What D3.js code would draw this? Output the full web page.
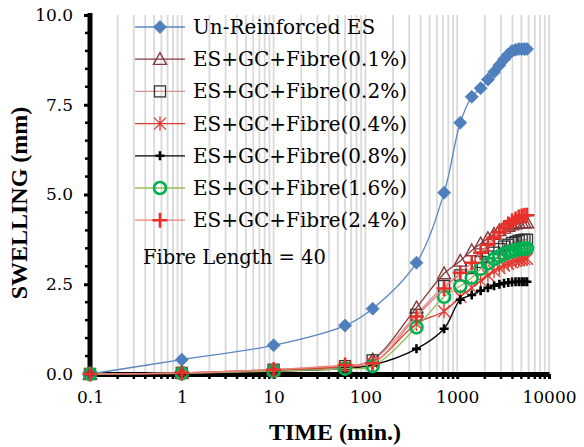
<!DOCTYPE html>
<html>
<head>
<meta charset="utf-8">
<script src="https://cdn.jsdelivr.net/npm/d3@7"></script>
<style>
  html, body { margin: 0; padding: 0; background: #fff; }
  svg { display: block; }
</style>
</head>
<body>
<svg id="chart" width="584" height="447"></svg>
<script>
// Elapsed time (min.) at which swelling was recorded
const times = [0.1, 1, 10, 60, 120, 360, 720, 1080, 1440, 1800, 2160, 2520, 2880,
               3240, 3600, 3960, 4320, 4680, 5040, 5400, 5760];

// Swelling (mm) for each mix
const unReinforced = [0, 0.4, 0.8, 1.35, 1.82, 3.1, 5.05, 7.0, 7.72, 7.96, 8.2, 8.41, 8.6,
                      8.77, 8.9, 9.0, 9.03, 9.05, 9.05, 9.05, 9.05];
const fibre01 = [0, 0.03, 0.12, 0.22, 0.4, 1.85, 2.8, 3.15, 3.44, 3.63, 3.78, 3.9, 4.0,
                 4.07, 4.12, 4.16, 4.19, 4.21, 4.22, 4.22, 4.22];
const fibre02 = [0, 0.03, 0.12, 0.22, 0.38, 1.65, 2.45, 2.75, 2.95, 3.12, 3.27, 3.38, 3.48,
                 3.55, 3.6, 3.65, 3.68, 3.71, 3.73, 3.74, 3.74];
const fibre04 = [0, 0.02, 0.1, 0.2, 0.3, 1.4, 1.75, 2.15, 2.4, 2.6, 2.75, 2.87, 2.95,
                 3.02, 3.07, 3.11, 3.15, 3.17, 3.19, 3.2, 3.21];
const fibre08 = [0, 0.02, 0.08, 0.15, 0.25, 0.7, 1.26, 2.07, 2.2, 2.32, 2.4, 2.46, 2.5,
                 2.53, 2.55, 2.56, 2.57, 2.57, 2.57, 2.57, 2.57];
const fibre16 = [0, 0.02, 0.08, 0.15, 0.22, 1.3, 2.15, 2.45, 2.68, 2.93, 3.08, 3.2, 3.28,
                 3.34, 3.39, 3.42, 3.45, 3.47, 3.49, 3.5, 3.5];
const fibre24 = [0, 0.03, 0.12, 0.25, 0.3, 1.6, 2.38, 2.82, 3.1, 3.38, 3.6, 3.8, 3.95,
                 4.08, 4.18, 4.26, 4.32, 4.37, 4.4, 4.42, 4.42];

const seriesNames = ["Un-Reinforced ES", "ES+GC+Fibre(0.1%)", "ES+GC+Fibre(0.2%)",
                     "ES+GC+Fibre(0.4%)", "ES+GC+Fibre(0.8%)", "ES+GC+Fibre(1.6%)",
                     "ES+GC+Fibre(2.4%)"];
const yTickValues = [0, 2.5, 5, 7.5, 10];
const xTickValues = [0.1, 1, 10, 100, 1000, 10000];
const xTickLabels = ["0.1", "1", "10", "100", "1000", "10000"];
const annotation = "Fibre Length = 40";
const xTitle = "TIME (min.)";
const yTitle = "SWELLING (mm)";

const styles = [
  { values: unReinforced, line: "#5b87c2", stroke: "#4f7fbd", fill: "#4f7fbd", marker: "diamond" },
  { values: fibre01, line: "#84393a", stroke: "#84393a", fill: "none", marker: "triangle" },
  { values: fibre02, line: "#d99090", stroke: "#333333", fill: "none", marker: "square" },
  { values: fibre04, line: "#e0392f", stroke: "#e0392f", fill: "none", marker: "star" },
  { values: fibre08, line: "#000000", stroke: "#000000", fill: "none", marker: "smallplus" },
  { values: fibre16, line: "#9bbb59", stroke: "#00b050", fill: "none", marker: "circle" },
  { values: fibre24, line: "#f07f7a", stroke: "#e8302a", fill: "none", marker: "bigplus" }
];

const svg = d3.select("#chart");
const plotLeft = 90, plotRight = 549, plotTop = 15, plotBottom = 374;

const x = d3.scaleLog().domain([0.1, 10000]).range([plotLeft, plotRight]);
const y = d3.scaleLinear().domain([0, 10]).range([plotBottom, plotTop]);

const serif = "'DejaVu Serif', serif";

// vertical gridlines at every log step
const gridVals = [];
for (let e = -1; e < 4; e++) {
  for (let m = 1; m <= 9; m++) gridVals.push(+(m * Math.pow(10, e)).toPrecision(6));
}
gridVals.push(10000);
svg.append("g").selectAll("line").data(gridVals.filter(v => v > 0.1)).join("line")
  .attr("x1", d => x(d)).attr("x2", d => x(d))
  .attr("y1", plotTop).attr("y2", plotBottom)
  .attr("stroke", "#d9d9d9").attr("stroke-width", 1.8);

// axes
const xAxis = d3.axisBottom(x).tickValues(xTickValues)
  .tickFormat((d, i) => xTickLabels[i]).tickSize(5).tickSizeOuter(0);
const gx = svg.append("g").attr("transform", `translate(0,${plotBottom})`).call(xAxis);
gx.select(".domain").attr("stroke", "#000").attr("stroke-width", 5);
gx.selectAll(".tick line").attr("stroke", "#000").attr("stroke-width", 3);
gx.selectAll(".tick text").attr("font-family", serif).attr("font-size", 17)
  .attr("fill", "#000").attr("dy", "1.25em");
svg.append("g").selectAll("line").data(gridVals.filter(v => xTickValues.indexOf(v) < 0)).join("line")
  .attr("x1", d => x(d)).attr("x2", d => x(d))
  .attr("y1", plotBottom).attr("y2", plotBottom + 5)
  .attr("stroke", "#000").attr("stroke-width", 2.5);

const yAxis = d3.axisLeft(y).tickValues(yTickValues).tickFormat(d3.format(".1f"))
  .tickSize(6).tickSizeOuter(0);
const gy = svg.append("g").attr("transform", `translate(${plotLeft},0)`).call(yAxis);
gy.select(".domain").attr("stroke", "#000").attr("stroke-width", 5)
  .attr("d", `M0,${plotBottom + 2.5}V${plotTop - 2}`);
gy.selectAll(".tick line").attr("stroke", "#000").attr("stroke-width", 3);
gy.selectAll(".tick text").attr("font-family", serif).attr("font-size", 17)
  .attr("fill", "#000").attr("x", -17);
const yMinor = d3.range(0.5, 10, 0.5).filter(v => yTickValues.indexOf(v) < 0);
svg.append("g").selectAll("line").data(yMinor).join("line")
  .attr("x1", plotLeft - 5).attr("x2", plotLeft)
  .attr("y1", d => y(d)).attr("y2", d => y(d))
  .attr("stroke", "#000").attr("stroke-width", 2.5);

// axis titles
svg.append("text").attr("x", 335).attr("y", 440).attr("text-anchor", "middle")
  .attr("font-family", "'Liberation Serif', serif").attr("font-weight", "bold")
  .attr("font-size", 24).text(xTitle);
svg.append("text").attr("transform", "translate(27,203) rotate(-90)")
  .attr("text-anchor", "middle")
  .attr("font-family", "'Liberation Serif', serif").attr("font-weight", "bold")
  .attr("font-size", 24).text(yTitle);

// marker shapes
function drawMarker(g, type, s) {
  if (type === "diamond") {
    const r = 6.5;
    g.append("path").attr("d", `M0,${-r}L${r},0L0,${r}L${-r},0Z`)
      .attr("fill", s.fill).attr("stroke", s.stroke).attr("stroke-width", 0.8);
  } else if (type === "triangle") {
    const r = 6.5;
    g.append("path").attr("d", `M0,${-r}L${r},${r * 0.8}L${-r},${r * 0.8}Z`)
      .attr("fill", "none").attr("stroke", s.stroke).attr("stroke-width", 1.4);
  } else if (type === "square") {
    const r = 5.5;
    g.append("rect").attr("x", -r).attr("y", -r).attr("width", 2 * r).attr("height", 2 * r)
      .attr("fill", "none").attr("stroke", s.stroke).attr("stroke-width", 1.3);
  } else if (type === "star") {
    const r = 6;
    g.append("path").attr("d", `M${-r},${-r}L${r},${r}M${-r},${r}L${r},${-r}M0,${-r * 1.2}V${r * 1.2}`)
      .attr("stroke", s.stroke).attr("stroke-width", 1.3);
  } else if (type === "smallplus") {
    const r = 4.5;
    g.append("path").attr("d", `M${-r},0H${r}M0,${-r}V${r}`)
      .attr("stroke", s.stroke).attr("stroke-width", 2.6);
  } else if (type === "circle") {
    g.append("circle").attr("r", 6)
      .attr("fill", "none").attr("stroke", s.stroke).attr("stroke-width", 2.6);
  } else if (type === "bigplus") {
    const r = 7.5;
    g.append("path").attr("d", `M${-r},0H${r}M0,${-r}V${r}`)
      .attr("stroke", s.stroke).attr("stroke-width", 2.6);
  }
}

const line = d3.line().x(d => x(d[0])).y(d => y(d[1]))
  .curve(d3.curveCatmullRom.alpha(0.5));

styles.forEach(s => {
  const pts = times.map((t, i) => [t, s.values[i]]);
  const g = svg.append("g");
  g.append("path").attr("d", line(pts)).attr("fill", "none")
    .attr("stroke", s.line).attr("stroke-width", 1.3);
  pts.forEach(p => {
    const m = g.append("g").attr("transform", `translate(${x(p[0])},${y(p[1])})`);
    drawMarker(m, s.marker, s);
  });
});

// legend
const legend = svg.append("g");
seriesNames.forEach((name, i) => {
  const cy = 27 + i * 32.2;
  const s = styles[i];
  legend.append("line").attr("x1", 135).attr("x2", 185).attr("y1", cy).attr("y2", cy)
    .attr("stroke", s.line).attr("stroke-width", 1.3);
  const m = legend.append("g").attr("transform", `translate(160,${cy})`);
  drawMarker(m, s.marker, s);
  legend.append("text").attr("x", 193).attr("y", cy + 7)
    .attr("font-family", serif).attr("font-size", 20).attr("fill", "#000").text(name);
});

svg.append("text").attr("x", 143).attr("y", 264)
  .attr("font-family", serif).attr("font-size", 19.5).attr("fill", "#000").text(annotation);
</script>
</body>
</html>
